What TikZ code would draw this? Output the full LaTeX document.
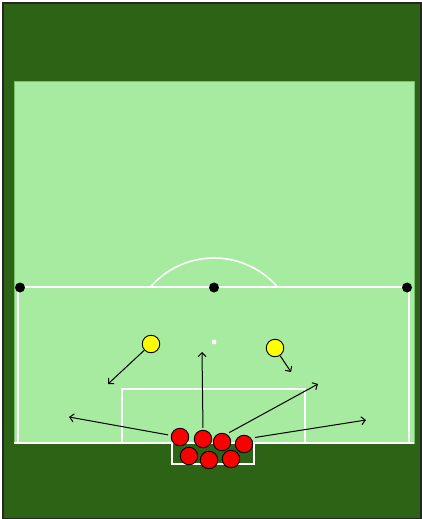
\documentclass[tikz,border=0pt]{standalone}
\usetikzlibrary{arrows.meta}
\definecolor{grass}{RGB}{45,99,21}
\definecolor{pitch}{RGB}{166,235,160}
\definecolor{pitchedge}{RGB}{120,192,112}
\definecolor{red}{RGB}{250,0,0}
\definecolor{yellow}{RGB}{255,255,0}

\begin{document}
\begin{tikzpicture}[x=1pt,y=-1pt,>={Straight Barb[length=4pt,width=8pt]},
  line/.style={white,line width=1.6pt},
  player/.style={circle,draw=black,line width=0.9pt,inner sep=0pt,minimum size=17.5pt},
  run/.style={->,black,line width=1pt}]
\useasboundingbox (0,0) rectangle (421,519);
% ground and pitch
\fill[grass,draw=black!85,line width=1.5pt] (3,3) rectangle (421,519);
\fill[pitch,draw=pitchedge,line width=1pt] (14,81) rectangle (414,443);
% markings
\draw[line] (18,443) -- (18,287) -- (409,287) -- (409,443);
\draw[line] (14,443) -- (414,443);
\draw[line] (122,443) -- (122,389) -- (305,389) -- (305,443);
\draw[line] (172,443) -- (172,464) -- (254,464) -- (254,443);
\begin{scope}
\clip (14,81) rectangle (414,287);
\draw[line] (214,342) circle[radius=84];
\end{scope}
\fill[white] (214,342) circle[radius=2.4];
% flags
\foreach \x/\name in {20/fl,214/fc,407/fr}
  \node[circle,fill=black,inner sep=0pt,minimum size=10pt] (\name) at (\x,287.5) {};
% attackers
\node[player,fill=yellow] (y1) at (151,344) {};
\node[player,fill=yellow] (y2) at (275,348) {};
% wall of defenders
\node[player,fill=red] (r5) at (189,456) {};
\node[player,fill=red] (r6) at (209,460) {};
\node[player,fill=red] (r7) at (231,459) {};
\node[player,fill=red] (r1) at (180,437) {};
\node[player,fill=red] (r2) at (203,439) {};
\node[player,fill=red] (r3) at (222,442) {};
\node[player,fill=red] (r4) at (244,444) {};
% runs
\coordinate (t1) at (108,384);
\coordinate (t2) at (291,372);
\coordinate (t3) at (69,417);
\coordinate (t4) at (202,352);
\coordinate (t5) at (318,384);
\coordinate (t6) at (366,420);
\draw[run] (y1) -- (t1);
\draw[run] (y2) -- (t2);
\draw[run,shorten <=3pt] (r1.170) -- (t3);
\draw[run,shorten <=2pt] (r2.north) -- (t4);
\draw[run,shorten <=3pt] (r3.60) -- (t5);
\draw[run,shorten <=4pt] (r4.40) -- (t6);
\end{tikzpicture}
\end{document}
